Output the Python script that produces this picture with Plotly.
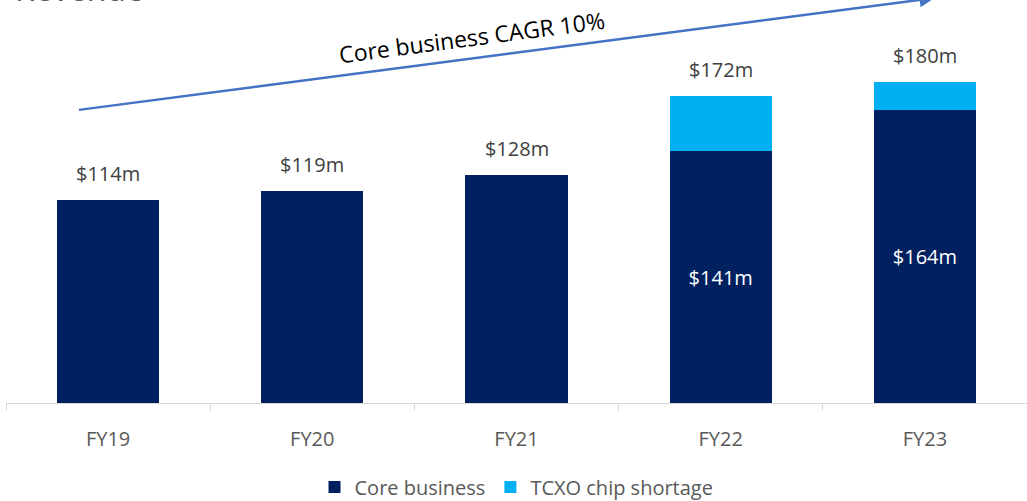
import plotly.graph_objects as go

# data
years = ["FY19", "FY20", "FY21", "FY22", "FY23"]
core = [114, 119, 128, 141, 164]
tcxo = [0, 0, 0, 31, 16]
totals = [c + t for c, t in zip(core, tcxo)]

NAVY = "#002060"
CYAN = "#00B0F0"
FONT = "Open Sans"

# core value shown inside the bar only where there is a TCXO segment on top
core_text = [f"${c}m" if t > 0 else "" for c, t in zip(core, tcxo)]

fig = go.Figure()
fig.add_trace(go.Bar(
    x=years, y=core, name="Core business",
    marker=dict(color=NAVY, line=dict(width=0)),
    text=core_text, textposition="inside", insidetextanchor="middle",
    textangle=0, constraintext="none",
    insidetextfont=dict(family=FONT, size=20, color="white"),
))
fig.add_trace(go.Bar(
    x=years, y=tcxo, name="TCXO chip shortage",
    marker=dict(color=CYAN, line=dict(width=0)),
))

# totals above bars
for i, tot in enumerate(totals):
    fig.add_annotation(
        x=years[i], y=tot, text=f"${tot}m", showarrow=False,
        yanchor="middle", yshift=26,
        font=dict(family=FONT, size=20, color="#404040"),
    )

# growth arrow
fig.add_annotation(
    x=4.047, y=226.9, ax=-0.15, ay=164.1,
    xref="x", yref="y", axref="x", ayref="y",
    text="", showarrow=True, arrowhead=2, arrowsize=1.2,
    arrowwidth=2.5, arrowcolor="#4472C4",
)
fig.add_annotation(
    x=(472 - 6) / 1021, y=(403 - 37) / 403, xref="paper", yref="paper",
    text="Core business CAGR 10%", showarrow=False, textangle=-7.5,
    xanchor="center", yanchor="middle",
    font=dict(family=FONT, size=23, color="#000000"),
)
# title, mostly cut off at the top of the slide
fig.add_annotation(
    x=(13 - 6) / 1021, y=1 - 12 / 403, xref="paper", yref="paper",
    text="Revenue", showarrow=False, xanchor="left", yanchor="bottom",
    font=dict(family=FONT, size=32, color="#595959"),
)

fig.update_layout(
    barmode="stack",
    bargap=0.5,
    width=1027, height=501,
    margin=dict(l=6, r=0, t=0, b=98),
    plot_bgcolor="white", paper_bgcolor="white",
    font=dict(family=FONT, size=20, color="#595959"),
    showlegend=True,
    legend=dict(
        orientation="h", x=0.5, xanchor="center", traceorder="normal",
        yref="container", y=(501 - 487) / 501, yanchor="middle",
        font=dict(family=FONT, size=20, color="#595959"),
        itemwidth=30,
    ),
)
fig.update_xaxes(
    showline=True, linecolor="#D9D9D9", linewidth=1,
    ticks="outside", tickson="boundaries", ticklen=7, tickcolor="#D9D9D9",
    ticklabelstandoff=18,
    tickfont=dict(family=FONT, size=20, color="#595959"),
    showgrid=False,
)
fig.update_yaxes(range=[0, 403 / 1.785], visible=False, showgrid=False)

fig.write_html("out.html", config={"displayModeBar": False},
               post_script="document.body.style.margin='0';")
